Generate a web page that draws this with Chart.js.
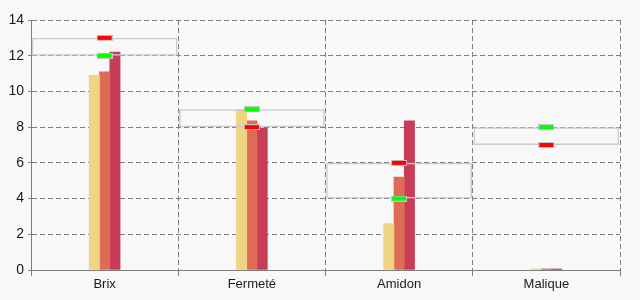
<!DOCTYPE html>
<html>
<head>
<meta charset="utf-8">
<script src="https://cdn.jsdelivr.net/npm/chart.js@4"></script>
<style>
  body { margin: 0; background: #f8f8f8; }
  canvas { display: block; }
</style>
</head>
<body>
<canvas id="qualityChart" width="640" height="300"></canvas>
<script>
// Data
const categories = ['Brix', 'Fermeté', 'Amidon', 'Malique'];
const seriesA = [10.9, 9.0, 2.6, 0.06];
const seriesB = [11.1, 8.35, 5.2, 0.06];
const seriesC = [12.2, 7.95, 8.35, 0.06];
const rangeLow = [12, 8, 4, 7];
const rangeHigh = [13, 9, 6, 8];
const greenMarks = [12, 9, 4, 8];
const redMarks = [13, 8, 6, 7];
const yTicks = [0, 2, 4, 6, 8, 10, 12, 14];

// small marker image: coloured bar with a grey outline
function makeMarker(color) {
    const c = document.createElement('canvas');
    c.width = 16;
    c.height = 6;
    const g = c.getContext('2d');
    g.fillStyle = '#c4c4c4';
    g.fillRect(0, 0, 16, 6);
    g.fillStyle = color;
    g.fillRect(1, 1, 14, 4);
    return c;
}

const gridGray = '#7f7f7f';
Chart.defaults.font.family = '"Liberation Sans", Arial, sans-serif';
Chart.defaults.color = '#1a1a1a';

const config = {
    type: 'bar',
    data: {
        labels: categories,
        datasets: [
            { data: seriesA, backgroundColor: '#efd483', barThickness: 10.3, order: 2 },
            { data: seriesB, backgroundColor: '#de6b56', barThickness: 10.3, order: 2 },
            { data: seriesC, backgroundColor: '#c73d58', barThickness: 10.3, order: 2 },
            {
                data: rangeLow.map((v, i) => [v, rangeHigh[i]]),
                grouped: false,
                backgroundColor: 'rgba(0,0,0,0)',
                borderColor: '#cccccc',
                borderWidth: 1.5,
                borderSkipped: false,
                inflateAmount: 0,
                barPercentage: 0.99,
                categoryPercentage: 1,
                order: 1
            },
            {
                type: 'line', data: greenMarks, showLine: false,
                pointStyle: makeMarker('#00ff00'), order: 0
            },
            {
                type: 'line', data: redMarks, showLine: false,
                pointStyle: makeMarker('#ff0000'), order: 0
            }
        ]
    },
    options: {
        responsive: false,
        animation: false,
        layout: { padding: { top: 20, right: 20, left: 0, bottom: 0 } },
        plugins: { legend: { display: false }, tooltip: { enabled: false } },
        scales: {
            x: {
                grid: { color: gridGray, tickColor: gridGray, tickLength: 6 },
                border: { color: gridGray, dash: [5, 3] },
                ticks: { font: { size: 13 }, padding: 1 },
                afterFit: s => { s.height = 30; }
            },
            y: {
                min: 0,
                max: 14,
                afterBuildTicks: s => { s.ticks = yTicks.map(v => ({ value: v })); },
                grid: { color: gridGray, tickColor: gridGray, tickLength: 3 },
                border: { color: gridGray, dash: [5, 3] },
                ticks: { font: { size: 14 }, padding: 4 },
                afterFit: s => { s.width = 31; }
            }
        }
    }
};

const ctx = document.getElementById('qualityChart').getContext('2d');
new Chart(ctx, config);
</script>
</body>
</html>
